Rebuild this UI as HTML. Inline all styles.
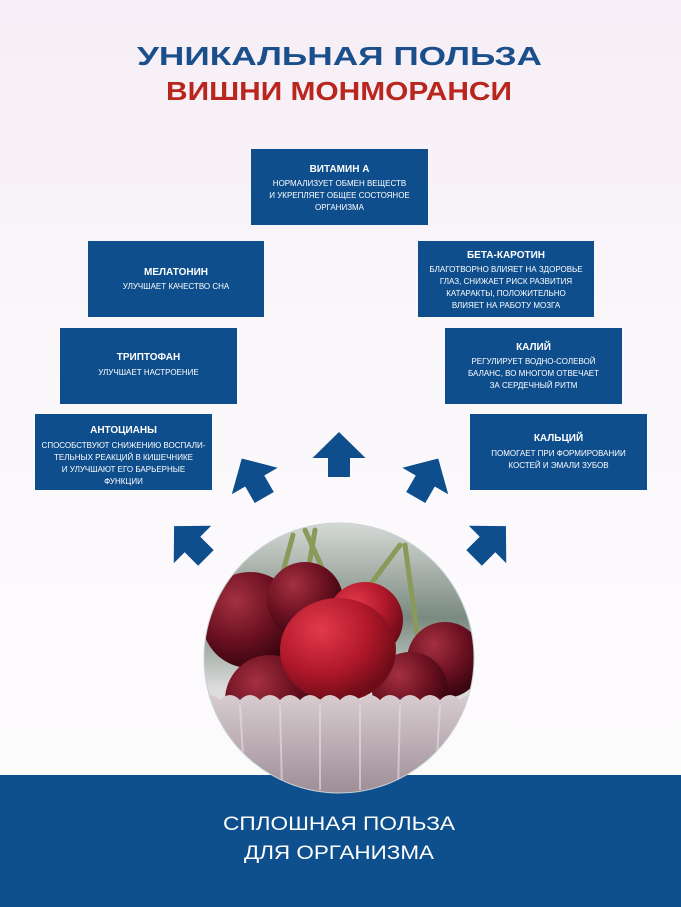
<!DOCTYPE html>
<html><head><meta charset="utf-8"><style>
html,body{margin:0;padding:0;width:681px;height:907px;overflow:hidden;}
svg{display:block;}
.t{font-family:"Liberation Sans Narrow","Liberation Sans",sans-serif;fill:#fff;text-anchor:middle;}
.h{font-weight:bold;font-size:10px;}
.b{font-size:8px;}
</style></head><body>
<svg width="681" height="907" viewBox="0 0 681 907" xmlns="http://www.w3.org/2000/svg">
<defs>
<linearGradient id="bg" x1="0" y1="0" x2="0" y2="1">
<stop offset="0" stop-color="#f6eef6"/><stop offset="0.45" stop-color="#fbf8fb"/><stop offset="1" stop-color="#fdfcfd"/>
</linearGradient>
<radialGradient id="c1" cx="0.35" cy="0.3" r="0.7"><stop offset="0" stop-color="#e23a4a"/><stop offset="0.6" stop-color="#b0182a"/><stop offset="1" stop-color="#6e0c18"/></radialGradient>
<radialGradient id="c2" cx="0.35" cy="0.3" r="0.7"><stop offset="0" stop-color="#a43040"/><stop offset="0.6" stop-color="#6a1020"/><stop offset="1" stop-color="#3a0610"/></radialGradient>
<linearGradient id="bowl" x1="0" y1="0" x2="0" y2="1"><stop offset="0" stop-color="#d8ccd0"/><stop offset="1" stop-color="#9a8a92"/></linearGradient>
<linearGradient id="photo" x1="0" y1="0" x2="0" y2="1"><stop offset="0" stop-color="#d8dcd8"/><stop offset="0.35" stop-color="#7a8a80"/><stop offset="0.6" stop-color="#dcdcdc"/><stop offset="1" stop-color="#e6e4e6"/></linearGradient>
<clipPath id="cc"><circle cx="339" cy="658" r="135"/></clipPath>
<polygon id="arr" points="0,-22.5 26.5,3.5 11,3.5 11,22.5 -11,22.5 -11,3.5 -26.5,3.5"/>
</defs>
<rect width="681" height="907" fill="url(#bg)"/>
<rect x="0" y="775" width="681" height="132" fill="#0e4f8e"/>

<text x="339.5" y="65" text-anchor="middle" font-family="Liberation Sans,sans-serif" font-weight="bold" font-size="26" fill="#1b4f8c" textLength="405" lengthAdjust="spacingAndGlyphs">УНИКАЛЬНАЯ ПОЛЬЗА</text>
<text x="339" y="100" text-anchor="middle" font-family="Liberation Sans,sans-serif" font-weight="bold" font-size="26" fill="#b8261e" textLength="346" lengthAdjust="spacingAndGlyphs">ВИШНИ МОНМОРАНСИ</text>

<g fill="#0f4e8d">
<rect x="251" y="149" width="177" height="76"/>
<rect x="88" y="241" width="176" height="76"/>
<rect x="418" y="241" width="176" height="76"/>
<rect x="60" y="328" width="177" height="76"/>
<rect x="445" y="328" width="177" height="76"/>
<rect x="35" y="414" width="177" height="76"/>
<rect x="470" y="414" width="177" height="76"/>
</g>

<text class="t h" x="339.5" y="172">ВИТАМИН А</text>
<text class="t b" x="339.5" y="186">НОРМАЛИЗУЕТ ОБМЕН ВЕЩЕСТВ</text>
<text class="t b" x="339.5" y="198">И УКРЕПЛЯЕТ ОБЩЕЕ СОСТОЯНОЕ</text>
<text class="t b" x="339.5" y="210">ОРГАНИЗМА</text>

<text class="t h" x="176" y="275">МЕЛАТОНИН</text>
<text class="t b" x="176" y="289">УЛУЧШАЕТ КАЧЕСТВО СНА</text>

<text class="t h" x="506" y="258">БЕТА-КАРОТИН</text>
<text class="t b" x="506" y="272">БЛАГОТВОРНО ВЛИЯЕТ НА ЗДОРОВЬЕ</text>
<text class="t b" x="506" y="284">ГЛАЗ, СНИЖАЕТ РИСК РАЗВИТИЯ</text>
<text class="t b" x="506" y="296">КАТАРАКТЫ, ПОЛОЖИТЕЛЬНО</text>
<text class="t b" x="506" y="308">ВЛИЯЕТ НА РАБОТУ МОЗГА</text>

<text class="t h" x="148.5" y="360">ТРИПТОФАН</text>
<text class="t b" x="148.5" y="375">УЛУЧШАЕТ НАСТРОЕНИЕ</text>

<text class="t h" x="533.5" y="350">КАЛИЙ</text>
<text class="t b" x="533.5" y="364">РЕГУЛИРУЕТ ВОДНО-СОЛЕВОЙ</text>
<text class="t b" x="533.5" y="376">БАЛАНС, ВО МНОГОМ ОТВЕЧАЕТ</text>
<text class="t b" x="533.5" y="388">ЗА СЕРДЕЧНЫЙ РИТМ</text>

<text class="t h" x="123.5" y="433">АНТОЦИАНЫ</text>
<text class="t b" x="123.5" y="448">СПОСОБСТВУЮТ СНИЖЕНИЮ ВОСПАЛИ-</text>
<text class="t b" x="123.5" y="460">ТЕЛЬНЫХ РЕАКЦИЙ В КИШЕЧНИКЕ</text>
<text class="t b" x="123.5" y="472">И УЛУЧШАЮТ ЕГО БАРЬЕРНЫЕ</text>
<text class="t b" x="123.5" y="484">ФУНКЦИИ</text>

<text class="t h" x="558.5" y="441">КАЛЬЦИЙ</text>
<text class="t b" x="558.5" y="456">ПОМОГАЕТ ПРИ ФОРМИРОВАНИИ</text>
<text class="t b" x="558.5" y="468">КОСТЕЙ И ЭМАЛИ ЗУБОВ</text>

<g fill="#0f4e8d">
<use href="#arr" transform="translate(339,454.5)"/>
<use href="#arr" transform="translate(253,478) rotate(-30)"/>
<use href="#arr" transform="translate(427,478) rotate(30)"/>
<use href="#arr" transform="translate(190,542) rotate(-45)"/>
<use href="#arr" transform="translate(490,542) rotate(45)"/>
</g>

<g clip-path="url(#cc)">
<rect x="200" y="520" width="280" height="280" fill="url(#photo)"/>
<g stroke="#8a9a5a" stroke-width="5" fill="none" stroke-linecap="round">
<path d="M293 535 L278 590"/>
<path d="M315 530 L305 590"/>
<path d="M305 530 L330 585"/>
<path d="M400 545 L355 605"/>
<path d="M405 545 L418 640"/>
</g>
<circle cx="250" cy="620" r="48" fill="url(#c2)"/>
<circle cx="305" cy="600" r="38" fill="url(#c2)"/>
<circle cx="445" cy="660" r="38" fill="url(#c2)"/>
<circle cx="410" cy="690" r="38" fill="url(#c2)"/>
<circle cx="270" cy="700" r="45" fill="url(#c2)"/>
<circle cx="365" cy="620" r="38" fill="url(#c1)"/>
<ellipse cx="338" cy="650" rx="58" ry="52" fill="url(#c1)"/>
<path d="M200 700 Q210 690 220 700 Q230 690 240 700 Q250 690 260 700 Q270 690 280 700 Q290 690 300 700 Q310 690 320 700 Q330 690 340 700 Q350 690 360 700 Q370 690 380 700 Q390 690 400 700 Q410 690 420 700 Q430 690 440 700 Q450 690 460 700 Q470 690 480 700 L480 800 L200 800 Z" fill="url(#bowl)"/>
<g stroke="#e8e0e4" stroke-width="2" opacity="0.6">
<line x1="240" y1="705" x2="245" y2="790"/><line x1="280" y1="705" x2="282" y2="790"/><line x1="320" y1="705" x2="320" y2="790"/><line x1="360" y1="705" x2="360" y2="790"/><line x1="400" y1="705" x2="398" y2="790"/><line x1="440" y1="705" x2="435" y2="790"/>
</g>
</g>
<circle cx="339" cy="658" r="135" fill="none" stroke="#c8d0d4" stroke-width="1"/>

<text x="339" y="830" text-anchor="middle" font-family="Liberation Sans,sans-serif" font-size="19" fill="#fff" textLength="232" lengthAdjust="spacingAndGlyphs">СПЛОШНАЯ ПОЛЬЗА</text>
<text x="339" y="859" text-anchor="middle" font-family="Liberation Sans,sans-serif" font-size="19" fill="#fff" textLength="190" lengthAdjust="spacingAndGlyphs">ДЛЯ ОРГАНИЗМА</text>
</svg>
</body></html>
